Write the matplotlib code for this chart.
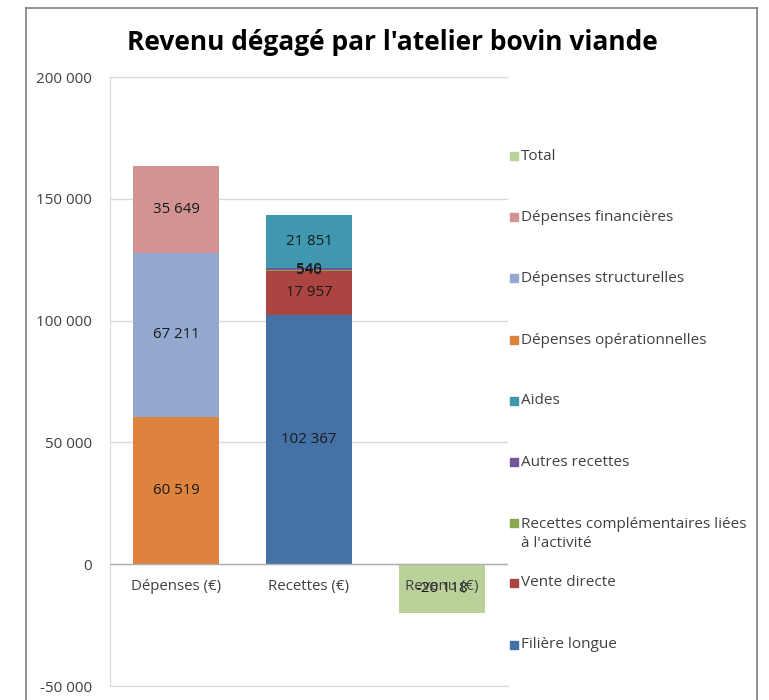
import matplotlib
matplotlib.use("Agg")
import matplotlib.pyplot as plt
from matplotlib.lines import Line2D
from matplotlib.patches import Rectangle

categories = ["Dépenses (€)", "Recettes (€)", "Revenu (€)"]
series_names = ["Filière longue", "Vente directe", "Recettes complémentaires liées\nà l'activité",
                "Autres recettes", "Aides", "Dépenses opérationnelles",
                "Dépenses structurelles", "Dépenses financières", "Total"]
filiere_longue = [0, 102367, 0]
vente_directe = [0, 17957, 0]
recettes_compl = [0, 546, 0]
autres_recettes = [0, 540, 0]
aides = [0, 21851, 0]
dep_oper = [60519, 0, 0]
dep_struct = [67211, 0, 0]
dep_fin = [35649, 0, 0]
total = [0, 0, -20118]
colors = ["#4471A6", "#AC4442", "#8AA84E", "#71569A", "#3F98AF",
          "#DE833D", "#93A9D0", "#D39392", "#BBD19A"]
yticks = [-50000, 0, 50000, 100000, 150000, 200000]

values = [filiere_longue, vente_directe, recettes_compl, autres_recettes, aides,
          dep_oper, dep_struct, dep_fin, total]

plt.rcParams['font.family'] = ['Open Sans', 'DejaVu Sans']
fig = plt.figure(figsize=(7.69, 7.0), dpi=100)
W, H = 769, 700
ax = fig.add_axes([110 / W, 1 - 686 / H, (508 - 110) / W, (686 - 77) / H])

x = range(len(categories))
pos = [0, 0, 0]
neg = [0, 0, 0]
for vals, col in zip(values, colors):
    bottoms = [pos[i] if v >= 0 else neg[i] for i, v in enumerate(vals)]
    ax.bar(x, vals, width=0.65, bottom=bottoms, color=col, zorder=3)
    for i, v in enumerate(vals):
        if v != 0:
            mid = bottoms[i] + v / 2
            txt = f"{v:,}".replace(",", " ")
            ax.text(i, mid, txt, ha="center", va="center", fontsize=10.8,
                    color="#1a1a1a", zorder=5)
        if v >= 0:
            pos[i] += v
        else:
            neg[i] += v

ax.set_xlim(-0.5, 2.5)
ax.set_ylim(-50000, 200000)
ax.set_yticks(yticks)
ax.set_yticklabels([f"{t:,}".replace(",", " ") for t in yticks], fontsize=11, color="#404040")
ax.tick_params(axis="y", length=0, pad=13)
ax.set_xticks([])
ax.grid(axis="y", color="#D9D9D9", linewidth=1, zorder=0)
ax.axhline(0, color="#B0B0B0", linewidth=1, zorder=4)
for s in ["left", "top", "bottom"]:
    ax.spines[s].set_color("#D9D9D9")
ax.spines["right"].set_visible(False)
for i, c in enumerate(categories):
    ax.text(i, -9200, c, ha="center", va="center", fontsize=10.8, color="#404040", zorder=6)

fig.text(392 / W, 1 - 42 / H, "Revenu dégagé par l'atelier bovin viande",
         ha="center", va="center", fontsize=19, fontweight="bold", color="black")

leg_y = [156, 217, 278, 340, 401, 462, 523, 583, 645]
for name, col, yy in zip(reversed(series_names), reversed(colors), leg_y):
    fig.patches.append(Rectangle((510 / W, 1 - (yy + 4) / H), 8 / W, 8 / H,
                                 transform=fig.transFigure, color=col))
    if "\n" in name:
        fig.text(521 / W, 1 - (yy - 6) / H, name, ha="left", va="top",
                 fontsize=11, color="#404040", linespacing=1.35)
    else:
        fig.text(521 / W, 1 - yy / H, name, ha="left", va="center",
                 fontsize=11, color="#404040")

fig.add_artist(Line2D([26 / W, 26 / W], [0, 1 - 8 / H], color="#7f7f7f", lw=1.2))
fig.add_artist(Line2D([26 / W, 757 / W], [1 - 8 / H, 1 - 8 / H], color="#7f7f7f", lw=1.2))
fig.add_artist(Line2D([757 / W, 757 / W], [0, 1 - 8 / H], color="#7f7f7f", lw=1.2))

fig.savefig("out.png", dpi=100)
